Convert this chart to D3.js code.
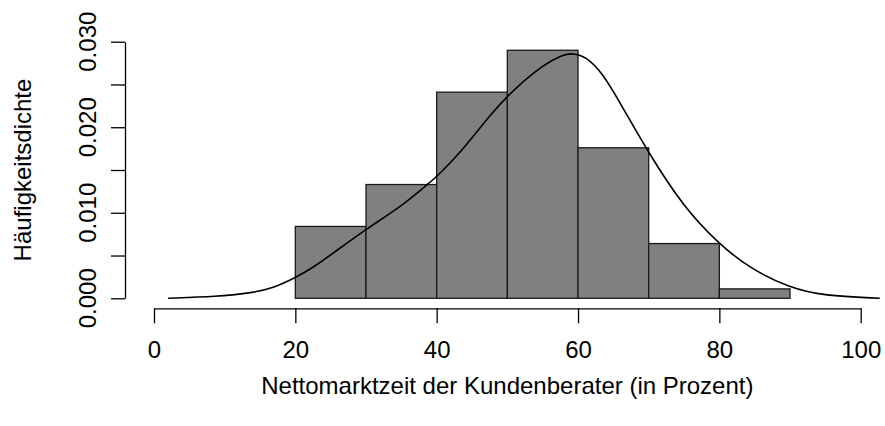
<!DOCTYPE html>
<html>
<head>
<meta charset="utf-8">
<script src="https://cdn.jsdelivr.net/npm/d3@7/dist/d3.min.js"></script>
<style>
  html, body { margin: 0; padding: 0; background: #fff; }
  svg { display: block; }
  text { font-family: "Liberation Sans", Arial, Helvetica, sans-serif; fill: #000; }
</style>
</head>
<body>
<svg id="chart" width="885" height="426"></svg>
<script>
// ---- data ----
const binStarts = [20, 30, 40, 50, 60, 70, 80];
const binWidth = 10;
const densities = [0.0084, 0.0133, 0.0241, 0.0290, 0.0176, 0.0064, 0.0011];
const curveX = [2, 8.9, 13.6, 16.9, 20, 22.5, 24.9, 30, 34.8, 38.8, 40, 43.3, 46.1, 47.5, 49.9, 54.2, 57.5, 59.3, 61.2, 63.4, 66, 69.9, 74.9, 80, 84.3, 90, 94.7, 102.7];
const curveY = [0.0000, 0.0002, 0.0006, 0.0012, 0.0024, 0.0036, 0.0050, 0.0081, 0.0106, 0.0134, 0.0142, 0.0170, 0.0199, 0.0213, 0.0236, 0.0268, 0.0284, 0.0287, 0.0282, 0.0264, 0.0228, 0.0171, 0.0107, 0.0063, 0.0035, 0.0012, 0.0003, 0.0000];
const xTicks = [0, 20, 40, 60, 80, 100];
const yTicks = [0, 0.005, 0.010, 0.015, 0.020, 0.025, 0.030];
const yTickLabels = ["0.000", "", "0.010", "", "0.020", "", "0.030"];
const xTitle = "Nettomarktzeit der Kundenberater (in Prozent)";
const yTitle = "Häufigkeitsdichte";

// ---- scales ----
const svg = d3.select("#chart");
const x = d3.scaleLinear().domain([0, 100]).range([154, 860.7]);
const y = d3.scaleLinear().domain([0, 0.030]).range([298.3, 41.7]);
const fontSize = 24;

// ---- bars ----
svg.append("g").selectAll("rect")
  .data(binStarts.map((s, i) => ({ s, d: densities[i] })))
  .join("rect")
  .attr("x", d => x(d.s))
  .attr("y", d => y(d.d))
  .attr("width", d => x(d.s + binWidth) - x(d.s))
  .attr("height", d => y(0) - y(d.d))
  .attr("fill", "#808080")
  .attr("stroke", "#1a1a1a")
  .attr("stroke-width", 1.3);

// ---- density curve ----
const line = d3.line()
  .x(d => x(d[0]))
  .y(d => y(d[1]))
  .curve(d3.curveBasis);
svg.append("path")
  .datum(curveX.map((v, i) => [v, curveY[i]]))
  .attr("d", line)
  .attr("fill", "none")
  .attr("stroke", "#000")
  .attr("stroke-width", 1.6);

// ---- x axis ----
const xAxisY = 308.3;
const xAxis = d3.axisBottom(x).tickValues(xTicks).tickSize(15).tickSizeOuter(0).tickPadding(18)
  .tickFormat(d3.format("d"));
const gx = svg.append("g").attr("transform", `translate(0,${xAxisY})`).call(xAxis);
gx.select(".domain").attr("stroke", "#000").attr("stroke-width", 1.3);
gx.selectAll(".tick line").attr("stroke", "#000").attr("stroke-width", 1.3);
gx.selectAll(".tick text").attr("font-size", fontSize).attr("font-family", "Liberation Sans, Arial, sans-serif").attr("fill", "#000");

// ---- y axis ----
const yAxisX = 125;
const yAxis = d3.axisLeft(y).tickValues(yTicks).tickSize(14).tickSizeOuter(0).tickFormat(() => "");
const gy = svg.append("g").attr("transform", `translate(${yAxisX},0)`).call(yAxis);
gy.select(".domain").attr("stroke", "#000").attr("stroke-width", 1.3);
gy.selectAll(".tick line").attr("stroke", "#000").attr("stroke-width", 1.3);
gy.selectAll(".tick text").remove();
svg.append("g").selectAll("text")
  .data(yTicks.map((t, i) => ({ t, lab: yTickLabels[i] })).filter(d => d.lab))
  .join("text")
  .attr("transform", d => `translate(96,${y(d.t)}) rotate(-90)`)
  .attr("text-anchor", "middle")
  .attr("font-size", fontSize)
  .text(d => d.lab);

// ---- titles ----
svg.append("text")
  .attr("x", (x(0) + x(100)) / 2)
  .attr("y", 394)
  .attr("text-anchor", "middle")
  .attr("font-size", fontSize)
  .text(xTitle);
svg.append("text")
  .attr("transform", `translate(31,${(y(0) + y(0.03)) / 2}) rotate(-90)`)
  .attr("text-anchor", "middle")
  .attr("font-size", fontSize)
  .text(yTitle);
</script>
</body>
</html>
